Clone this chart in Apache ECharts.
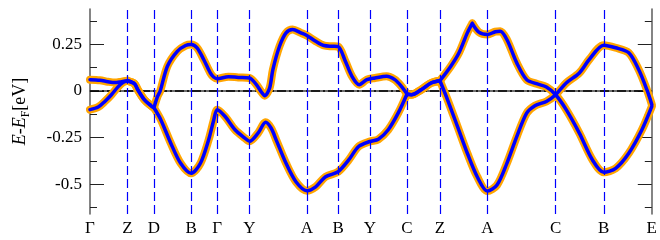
<!DOCTYPE html>
<html>
<head>
<meta charset="utf-8">
<script src="https://cdn.jsdelivr.net/npm/echarts@6/dist/echarts.min.js"></script>
<style>
  html, body { margin: 0; padding: 0; background: #fff; }
  #chart { width: 660px; height: 240px; }
</style>
</head>
<body>
<div id="chart"></div>
<script>
// k-path positions of the high-symmetry points and their labels
const kPos = [0, 38, 64.7, 102.3, 128.7, 161.3, 219.3, 251, 283, 320.7, 354, 402, 471, 519.7, 568.3];
const kLabels = ['Γ', 'Z', 'D', 'B', 'Γ', 'Y', 'A', 'B', 'Y', 'C', 'Z', 'A', 'C', 'B', 'E'];
// k values where the bands have a sharp corner
const kinkK = [38, 64.7, 320.7, 354, 386.7];

// energy ticks (eV)
const yMajor = [-0.5, -0.25, 0, 0.25];
const yMinor = [-0.625, -0.375, -0.125, 0.125, 0.375];

// band 1 [k, E-EF]
const bandUpper = [
  [0, 0.061], [10, 0.058], [18, 0.05], [25, 0.045], [32, 0.05], [38, 0.055], [45, 0.039],
  [48.3, 0.007], [55, -0.047], [61.7, -0.079], [64.7, -0.09], [68.3, -0.029], [71, 0.0],
  [78.3, 0.133], [88.3, 0.213], [96.7, 0.244], [102.3, 0.249], [108.3, 0.232], [115, 0.169],
  [121.7, 0.097], [125, 0.075], [128.7, 0.066], [140, 0.077], [150, 0.073], [161.3, 0.07],
  [168.3, 0.034], [173.3, -0.005], [176.7, -0.025], [181.7, 0.016], [185, 0.115], [191.7, 0.24],
  [198.3, 0.312], [205, 0.33], [213.3, 0.312], [219.3, 0.298], [228.3, 0.267], [236.7, 0.244],
  [245, 0.24], [251, 0.238], [258.3, 0.16], [265, 0.079], [272.3, 0.034], [280, 0.061],
  [288.3, 0.07], [300, 0.079], [308.3, 0.061], [315, 0.025], [320.7, -0.016], [325, -0.02],
  [335, 0.007], [345, 0.043], [354, 0.055], [365, 0.133], [373.3, 0.205], [381.7, 0.312],
  [386.7, 0.363], [393.3, 0.316], [402, 0.303], [410, 0.318], [415, 0.321], [421.7, 0.276],
  [431.7, 0.151], [441.7, 0.061], [451.7, 0.039], [461.7, 0.022], [471, -0.02], [481.7, -0.1],
  [495, -0.226], [508.3, -0.37], [519.7, -0.436], [531.7, -0.415], [545, -0.334], [558.3, -0.208],
  [568.3, -0.083]
];

// band 2 [k, E-EF]
const bandLower = [
  [0, -0.1], [8.3, -0.086], [15, -0.056], [21.7, -0.02], [28.3, 0.022], [33.3, 0.046], [38, 0.055],
  [45, 0.039], [48.3, 0.007], [55, -0.047], [61.7, -0.079], [64.7, -0.09], [71.7, -0.155],
  [81.7, -0.28], [91.7, -0.388], [102.3, -0.442], [111.7, -0.388], [120, -0.262], [125, -0.16],
  [128.7, -0.1], [136.7, -0.137], [146.7, -0.208], [156.7, -0.253], [161.3, -0.27], [170, -0.226],
  [177.7, -0.168], [183.3, -0.2], [188.3, -0.262], [198.3, -0.388], [208.3, -0.487], [219.3, -0.535],
  [228.3, -0.514], [238.3, -0.46], [251, -0.433], [261.7, -0.37], [271.7, -0.298], [283, -0.271],
  [291.7, -0.259], [301.7, -0.208], [311.7, -0.119], [320.7, -0.016], [325, -0.02], [335, 0.007],
  [345, 0.043], [354, 0.055], [361.7, -0.047], [371.7, -0.19], [381.7, -0.334], [391.7, -0.46],
  [402, -0.537], [411.7, -0.505], [421.7, -0.388], [431.7, -0.245], [441.7, -0.119], [450, -0.079],
  [461.7, -0.056], [471, -0.02], [481.7, 0.043], [495, 0.097], [505, 0.169], [519.7, 0.246],
  [531.7, 0.232], [545, 0.205], [555, 0.115], [563.3, 0.007], [568.3, -0.072]
];

const serif = 'serif';
const frame = { show: true, lineStyle: { color: '#666', width: 1.6 } };
const yMin = -0.66, yMax = 0.44;

// break the line at corners so each piece is smoothed on its own
function withBreaks(pts) {
  const out = [];
  pts.forEach((p, i) => {
    out.push(p);
    if (i > 0 && i < pts.length - 1 && kinkK.includes(p[0])) {
      out.push([p[0], '-']);
      out.push(p);
    }
  });
  return out;
}

function tickAxis(pos, values, len, withLabels) {
  return {
    type: 'value', position: pos, min: yMin, max: yMax,
    axisLine: withLabels ? frame : { show: false },
    splitLine: { show: false },
    axisTick: { show: true, inside: true, length: len, customValues: values, lineStyle: { color: '#222', width: 1 } },
    axisLabel: withLabels && pos === 'left' ? {
      show: true, customValues: values, margin: 8, color: '#000', fontFamily: serif, fontSize: 17,
      formatter: v => (v === 0 ? '0' : String(v))
    } : { show: false }
  };
}

function band(data, color, width, z) {
  return {
    type: 'line', data: withBreaks(data), smooth: 0.3, connectNulls: false, showSymbol: false,
    symbol: 'none', silent: true, z: z,
    lineStyle: { color: color, width: width, cap: 'round', join: 'round' }
  };
}

const chart = echarts.init(document.getElementById('chart'), null, { renderer: 'canvas' });
const yLeft = tickAxis('left', yMajor, 14, true);
yLeft.name = '{i|E}-{i|E}{s|F}[eV]';
yLeft.nameLocation = 'middle';
yLeft.nameRotate = 90;
yLeft.nameGap = 58;
yLeft.nameTextStyle = {
  color: '#000', fontFamily: serif, fontSize: 18, lineHeight: 24,
  rich: {
    i: { fontFamily: serif, fontStyle: 'italic', fontSize: 18, lineHeight: 24, color: '#000' },
    s: { fontFamily: serif, fontSize: 12, lineHeight: 12, verticalAlign: 'bottom', color: '#000' }
  }
};

chart.setOption({
  animation: false,
  backgroundColor: '#fff',
  textStyle: { fontFamily: serif },
  grid: { left: 85, right: 7, top: 9, bottom: 26 },
  xAxis: [
    {
      type: 'value', min: 0, max: kPos[kPos.length - 1], position: 'bottom',
      axisLine: frame, splitLine: { show: false }, axisTick: { show: false },
      axisLabel: {
        show: true, customValues: kPos, margin: 6, color: '#000', fontFamily: serif, fontSize: 17,
        formatter: v => kLabels[kPos.indexOf(v)]
      }
    },
    {
      type: 'value', min: 0, max: kPos[kPos.length - 1], position: 'top',
      axisLine: frame, splitLine: { show: false }, axisTick: { show: false }, axisLabel: { show: false }
    }
  ],
  yAxis: [
    yLeft,
    tickAxis('left', yMinor, 7, false),
    tickAxis('right', yMajor, 14, true),
    tickAxis('right', yMinor, 7, false)
  ],
  series: [
    {
      type: 'line', data: [[0, 0], [kPos[kPos.length - 1], 0]], showSymbol: false, symbol: 'none',
      silent: true, z: 1,
      lineStyle: { color: '#000', width: 1.3, type: [9, 3, 2, 3] },
      markLine: {
        silent: true, symbol: ['none', 'none'], label: { show: false },
        lineStyle: { color: '#0000ff', width: 1.2, type: [9, 4] },
        data: kPos.slice(1, -1).map(k => ({ xAxis: k }))
      }
    },
    band(bandUpper, '#ffa500', 8, 2),
    band(bandLower, '#ffa500', 8, 2),
    band(bandUpper, '#0000ff', 3.5, 3),
    band(bandLower, '#0000ff', 3.5, 3)
  ]
});
</script>
</body>
</html>
